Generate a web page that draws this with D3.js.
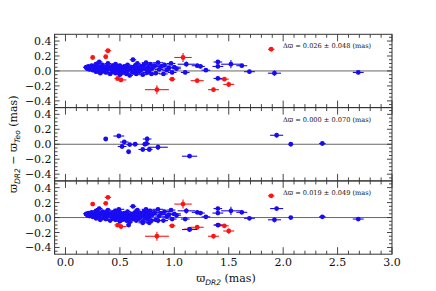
<!DOCTYPE html>
<html>
<head>
<meta charset="utf-8">
<script src="https://cdn.jsdelivr.net/npm/d3@7"></script>
<style>
  body { margin: 0; background: #fff; }
  svg text { font-family: "DejaVu Serif", serif; }
</style>
</head>
<body>
<div id="chart"></div>
<script>
// [x, y, xerr, yerr]
var topBlue = [
  [0.19,0.05,0.03,0.025],[0.20,0.03,0.03,0.025],[0.21,0.06,0.03,0.025],[0.22,0.02,0.03,0.025],[0.23,0.04,0.03,0.025],
  [0.24,0.07,0.03,0.025],[0.25,0.01,0.03,0.025],[0.26,0.05,0.03,0.025],[0.27,0.03,0.03,0.025],[0.28,0.09,0.03,0.025],
  [0.28,-0.01,0.03,0.025],[0.29,0.04,0.03,0.025],[0.30,0.06,0.03,0.025],[0.31,0.12,0.03,0.025],[0.31,0.02,0.03,0.025],
  [0.32,-0.03,0.03,0.025],[0.33,0.05,0.03,0.025],[0.34,0.08,0.03,0.025],[0.35,0.00,0.03,0.025],[0.35,0.04,0.03,0.025],
  [0.36,0.03,0.03,0.025],[0.37,-0.02,0.03,0.025],[0.38,0.06,0.03,0.025],[0.38,0.01,0.03,0.025],[0.39,0.10,0.03,0.025],
  [0.40,0.03,0.03,0.025],[0.41,-0.04,0.03,0.025],[0.41,0.05,0.03,0.025],[0.42,0.02,0.03,0.025],[0.43,0.07,0.03,0.025],
  [0.44,-0.01,0.03,0.025],[0.44,0.04,0.03,0.025],[0.45,0.01,0.03,0.025],[0.46,0.09,0.03,0.025],[0.46,-0.03,0.03,0.025],
  [0.47,0.03,0.03,0.025],[0.48,0.05,0.03,0.025],[0.49,0.00,0.03,0.025],[0.50,0.07,0.03,0.025],[0.50,-0.05,0.03,0.025],
  [0.51,0.02,0.03,0.025],[0.52,0.04,0.03,0.025],[0.53,-0.02,0.03,0.025],[0.54,0.06,0.03,0.025],[0.54,0.01,0.03,0.025],
  [0.55,0.03,0.03,0.025],[0.56,-0.04,0.03,0.025],[0.57,0.08,0.03,0.025],[0.57,0.00,0.03,0.025],[0.58,0.04,0.03,0.025],
  [0.59,-0.06,0.03,0.025],[0.60,0.02,0.03,0.025],[0.61,0.05,0.03,0.025],[0.62,0.15,0.03,0.025],[0.62,-0.02,0.03,0.025],
  [0.63,0.03,0.03,0.025],[0.64,0.07,0.03,0.025],[0.65,-0.04,0.03,0.025],[0.65,0.01,0.03,0.025],[0.66,0.10,0.03,0.025],
  [0.67,0.04,0.03,0.025],[0.68,-0.01,0.03,0.025],[0.69,0.06,0.04,0.025],[0.70,0.02,0.04,0.025],[0.71,-0.05,0.04,0.025],
  [0.72,0.08,0.04,0.025],[0.73,0.03,0.04,0.025],[0.74,0.11,0.04,0.025],[0.75,-0.02,0.04,0.025],[0.76,0.05,0.04,0.025],
  [0.77,0.01,0.04,0.025],[0.78,0.09,0.04,0.025],[0.79,-0.04,0.04,0.025],[0.80,0.04,0.04,0.025],[0.82,0.07,0.04,0.025],
  [0.83,-0.03,0.04,0.025],[0.85,0.11,0.05,0.025],[0.86,0.02,0.04,0.025],[0.88,0.06,0.05,0.025],[0.90,-0.04,0.04,0.025],
  [0.91,0.08,0.05,0.025],[0.93,0.01,0.04,0.025],[0.95,0.04,0.06,0.025],[0.97,0.10,0.04,0.025],[0.98,-0.02,0.04,0.025],
  [1.00,0.05,0.06,0.025],[1.02,0.03,0.04,0.025],[1.10,-0.02,0.04,0.025],[1.11,0.09,0.08,0.035],[1.21,0.07,0.05,0.025],
  [1.24,0.06,0.04,0.025],[1.29,0.01,0.04,0.025],[1.40,0.12,0.04,0.025],[1.40,0.06,0.05,0.025],[1.40,-0.10,0.04,0.025],
  [1.52,0.09,0.09,0.055],[1.62,0.07,0.05,0.025],[1.69,-0.01,0.05,0.025],[1.92,-0.03,0.06,0.035],[2.69,-0.02,0.05,0.025]
];
var topRed = [
  [0.25,0.18,0.02,0.02],[0.37,0.19,0.02,0.02],[0.39,0.27,0.03,0.025],[0.48,-0.10,0.03,0.02],[0.51,-0.12,0.05,0.03],
  [0.84,-0.25,0.11,0.06],[0.98,-0.11,0.03,0.025],[1.08,0.18,0.08,0.06],[1.21,-0.13,0.06,0.025],[1.36,-0.25,0.05,0.025],
  [1.46,-0.11,0.04,0.025],[1.50,-0.18,0.05,0.035],[1.89,0.29,0.03,0.02]
];
var midBlue = [
  [0.37,0.07,0.02,0.02],[0.49,0.11,0.05,0.025],[0.54,0.03,0.04,0.025],[0.52,-0.03,0.04,0.025],[0.59,-0.005,0.03,0.025],
  [0.64,0.00,0.03,0.025],[0.58,-0.10,0.02,0.02],[0.71,-0.07,0.04,0.025],[0.73,0.00,0.03,0.025],[0.75,0.07,0.04,0.035],
  [0.745,0.01,0.03,0.025],[0.77,-0.07,0.03,0.025],[0.85,-0.04,0.09,0.035],[1.14,-0.16,0.07,0.025],[1.94,0.12,0.06,0.025],
  [2.07,0.00,0.02,0.02],[2.36,0.01,0.03,0.02]
];
var bottomBlue = topBlue.concat(midBlue);
var bottomRed = topRed.concat([[1.14,-0.155,0.05,0.025],[1.405,-0.10,0.04,0.025]]);

var panelLabels = [
  "Δϖ = 0.026 ± 0.048 (mas)",
  "Δϖ = 0.000 ± 0.070 (mas)",
  "Δϖ = 0.019 ± 0.049 (mas)"
];
var panels = [
  {blue: topBlue, red: topRed},
  {blue: midBlue, red: []},
  {blue: bottomBlue, red: bottomRed}
];
var xTicks = [0.0, 0.5, 1.0, 1.5, 2.0, 2.5, 3.0];
var yTicks = [-0.4, -0.2, 0.0, 0.2, 0.4];

var W = 436, H = 291,
    left = 54.6, right = 392, top0 = 34.3, ph = 73.3,
    blueCol = "#1a0cf2", redCol = "#ff1414", axisCol = "#333";

var svg = d3.select("#chart").append("svg")
    .attr("width", W).attr("height", H);

var x = d3.scaleLinear().domain([-0.1, 3.0]).range([left, right]);
var fmt = function(v){ return d3.format(".1f")(v).replace("-", "−"); };

panels.forEach(function(p, i){
  var py = top0 + i * ph;
  var y = d3.scaleLinear().domain([-0.49, 0.49]).range([py + ph, py]);
  var g = svg.append("g");

  // zero line
  g.append("line")
    .attr("x1", left).attr("x2", right)
    .attr("y1", y(0)).attr("y2", y(0))
    .style("stroke", "#666").style("stroke-width", 1);

  // ticks, pointing inward
  var xMinor = d3.range(-0.1, 3.001, 0.1);
  xMinor.forEach(function(v){
    var major = Math.abs(v * 2 - Math.round(v * 2)) < 1e-6;
    var len = major ? 7 : 3.5;
    g.append("line").attr("x1", x(v)).attr("x2", x(v))
      .attr("y1", py + ph).attr("y2", py + ph - len)
      .style("stroke", axisCol).style("stroke-width", 0.9);
    g.append("line").attr("x1", x(v)).attr("x2", x(v))
      .attr("y1", py).attr("y2", py + len)
      .style("stroke", axisCol).style("stroke-width", 0.9);
  });
  var yMinor = d3.range(-0.45, 0.451, 0.05);
  yMinor.forEach(function(v){
    var major = Math.abs(v * 5 - Math.round(v * 5)) < 1e-6;
    var len = major ? 5 : 3;
    g.append("line").attr("x1", left).attr("x2", left + len)
      .attr("y1", y(v)).attr("y2", y(v))
      .style("stroke", axisCol).style("stroke-width", 0.9);
    g.append("line").attr("x1", right).attr("x2", right - len)
      .attr("y1", y(v)).attr("y2", y(v))
      .style("stroke", axisCol).style("stroke-width", 0.9);
  });

  // y tick labels
  g.selectAll("text.yl").data(yTicks).enter().append("text")
    .attr("x", left - 3).attr("y", function(d){ return y(d) + 4; })
    .attr("text-anchor", "end")
    .style("font-size", "11px").style("fill", "#111")
    .text(fmt);

  // frame
  g.append("rect")
    .attr("x", left).attr("y", py).attr("width", right - left).attr("height", ph)
    .style("fill", "none").style("stroke", axisCol).style("stroke-width", 1);

  // points with error bars
  function drawSet(data, col){
    var s = g.append("g");
    data.forEach(function(d){
      s.append("line")
        .attr("x1", x(d[0] - d[2])).attr("x2", x(d[0] + d[2]))
        .attr("y1", y(d[1])).attr("y2", y(d[1]))
        .style("stroke", col).style("stroke-width", 1.1);
      s.append("line")
        .attr("x1", x(d[0])).attr("x2", x(d[0]))
        .attr("y1", y(d[1] - d[3])).attr("y2", y(d[1] + d[3]))
        .style("stroke", col).style("stroke-width", 1.1);
      s.append("circle")
        .attr("cx", x(d[0])).attr("cy", y(d[1])).attr("r", 2.4)
        .style("fill", col);
    });
  }
  drawSet(p.red, redCol);
  drawSet(p.blue, blueCol);

  g.append("text")
    .attr("x", 283).attr("y", py + 14)
    .style("font-size", "6.6px").style("fill", "#111")
    .text(panelLabels[i]);
});

// x tick labels
svg.selectAll("text.xl").data(xTicks).enter().append("text")
  .attr("x", function(d){ return x(d); })
  .attr("y", top0 + 3 * ph + 12)
  .attr("text-anchor", "middle")
  .style("font-size", "11px").style("fill", "#111")
  .text(fmt);

// axis titles
var xt = svg.append("text")
  .attr("x", 226).attr("y", 282)
  .attr("text-anchor", "middle")
  .style("font-size", "11px").style("fill", "#111");
xt.append("tspan").text("ϖ");
xt.append("tspan").attr("dy", 3).style("font-size", "7.5px")
  .style("font-family", "DejaVu Sans").style("font-style", "italic").text("DR2");
xt.append("tspan").attr("dy", -3).text(" (mas)");

var yt = svg.append("text")
  .attr("transform", "translate(17," + (top0 + 1.5 * ph) + ") rotate(-90)")
  .attr("text-anchor", "middle")
  .style("font-size", "11px").style("fill", "#111");
yt.append("tspan").text("ϖ");
yt.append("tspan").attr("dy", 3).style("font-size", "7.5px")
  .style("font-family", "DejaVu Sans").style("font-style", "italic").text("DR2");
yt.append("tspan").attr("dy", -3).text(" − ϖ");
yt.append("tspan").attr("dy", 3).style("font-size", "7.5px")
  .style("font-family", "DejaVu Sans").style("font-style", "italic").text("Teo");
yt.append("tspan").attr("dy", -3).text(" (mas)");
</script>
</body>
</html>
